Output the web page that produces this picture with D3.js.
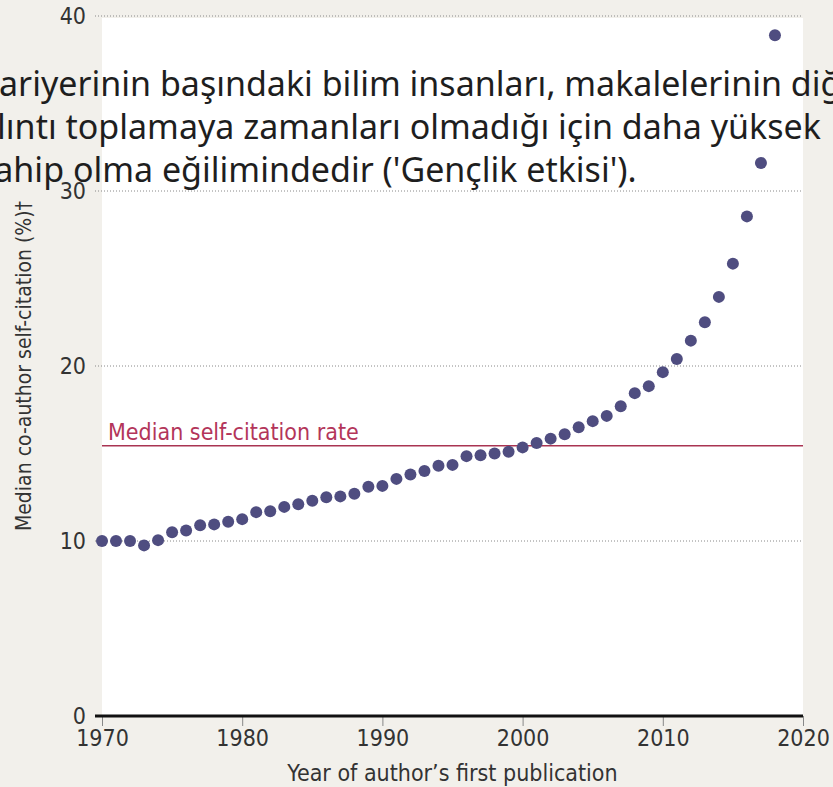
<!DOCTYPE html>
<html>
<head>
<meta charset="utf-8">
<script src="https://cdn.jsdelivr.net/npm/d3@7"></script>
<style>
  html, body { margin: 0; padding: 0; background: #f2f0eb; }
  #chart { width: 833px; height: 787px; overflow: hidden; }
</style>
</head>
<body>
<div id="chart"></div>
<script>
// data
const years = [1970, 1971, 1972, 1973, 1974, 1975, 1976, 1977, 1978, 1979,
    1980, 1981, 1982, 1983, 1984, 1985, 1986, 1987, 1988, 1989,
    1990, 1991, 1992, 1993, 1994, 1995, 1996, 1997, 1998, 1999,
    2000, 2001, 2002, 2003, 2004, 2005, 2006, 2007, 2008, 2009,
    2010, 2011, 2012, 2013, 2014, 2015, 2016, 2017, 2018];
const selfCitation = [10.0, 10.0, 10.0, 9.75, 10.05, 10.5, 10.6, 10.9, 10.95, 11.1,
    11.25, 11.65, 11.7, 11.95, 12.1, 12.3, 12.5, 12.55, 12.7, 13.1,
    13.15, 13.55, 13.8, 14.0, 14.3, 14.35, 14.85, 14.9, 15.0, 15.1,
    15.35, 15.6, 15.85, 16.1, 16.5, 16.85, 17.15, 17.7, 18.45, 18.85,
    19.65, 20.4, 21.45, 22.5, 23.95, 25.85, 28.55, 31.6, 38.9];
const medianRate = 15.45;
const xTicks = [1970, 1980, 1990, 2000, 2010, 2020];
const yTicks = [0, 10, 20, 30, 40];
const captionLines = [
    "Kariyerinin başındaki bilim insanları, makalelerinin diğer",
    "alıntı toplamaya zamanları olmadığı için daha yüksek",
    "sahip olma eğilimindedir ('Gençlik etkisi')."
];

const width = 833, height = 787;
const margin = {top: 16, right: 30, bottom: 71, left: 102};

const svg = d3.select("#chart")
    .append("svg")
    .attr("width", width)
    .attr("height", height);

svg.append("rect")
    .attr("width", width).attr("height", height)
    .attr("fill", "#f2f0eb");

const x = d3.scaleLinear()
    .domain([1970, 2020])
    .range([margin.left, width - margin.right]);
const y = d3.scaleLinear()
    .domain([0, 40])
    .range([height - margin.bottom, margin.top]);

// white plot panel
svg.append("rect")
    .attr("x", x(1970))
    .attr("y", y(40) + 2)
    .attr("width", x(2020) - x(1970))
    .attr("height", y(0) - y(40) - 2)
    .attr("fill", "#ffffff");

const tickFont = "'Liberation Sans Narrow', 'DejaVu Sans Condensed', 'Liberation Sans', sans-serif";

// dotted gridlines
svg.selectAll(".grid")
    .data(yTicks.filter(d => d > 0))
    .enter().append("line")
    .attr("class", "grid")
    .attr("x1", x(1970) - 7)
    .attr("x2", x(2020))
    .attr("y1", d => y(d))
    .attr("y2", d => y(d))
    .style("stroke", "#888")
    .style("stroke-width", 1)
    .style("stroke-dasharray", "1,2");

// y tick labels
svg.selectAll(".ylab")
    .data(yTicks)
    .enter().append("text")
    .attr("class", "ylab")
    .attr("x", x(1970) - 16)
    .attr("y", d => y(d))
    .attr("dy", "0.35em")
    .attr("text-anchor", "end")
    .style("font-family", tickFont)
    .style("font-size", "23px")
    .style("fill", "#333")
    .text(d => d);

// x axis
const xAxis = svg.append("g")
    .attr("transform", "translate(0," + y(0) + ")")
    .call(d3.axisBottom(x).tickValues(xTicks).tickFormat(d3.format("d")).tickSize(10).tickPadding(4));
xAxis.select(".domain").remove();
xAxis.selectAll(".tick line").style("stroke", "#888");
xAxis.selectAll(".tick text")
    .style("font-family", tickFont)
    .style("font-size", "23px")
    .style("fill", "#333");

svg.append("line")
    .attr("x1", x(1970) - 7)
    .attr("x2", x(2020))
    .attr("y1", y(0))
    .attr("y2", y(0))
    .style("stroke", "#111")
    .style("stroke-width", 3);

// axis titles
svg.append("text")
    .attr("x", (x(1970) + x(2020)) / 2)
    .attr("y", 781)
    .attr("text-anchor", "middle")
    .style("font-family", tickFont)
    .style("font-size", "23px")
    .style("fill", "#333")
    .text("Year of author\u2019s first publication");

svg.append("text")
    .attr("transform", "translate(31," + (y(0) + y(40)) / 2 + ") rotate(-90)")
    .attr("text-anchor", "middle")
    .style("font-family", tickFont)
    .style("font-size", "21px")
    .style("fill", "#333")
    .text("Median co-author self-citation (%)\u2020");

// median line
svg.append("line")
    .attr("x1", x(1970))
    .attr("x2", x(2020))
    .attr("y1", y(medianRate))
    .attr("y2", y(medianRate))
    .style("stroke", "#a93452")
    .style("stroke-width", 1.5);

svg.append("text")
    .attr("x", x(1970) + 6)
    .attr("y", y(medianRate) - 6)
    .style("font-family", tickFont)
    .style("font-size", "23px")
    .style("fill", "#b3355a")
    .text("Median self-citation rate");

// dots
svg.selectAll(".dot")
    .data(years.map((yr, i) => ({year: yr, value: selfCitation[i]})))
    .enter().append("circle")
    .attr("class", "dot")
    .attr("cx", d => x(d.year))
    .attr("cy", d => y(d.value))
    .attr("r", 6)
    .style("fill", "#4f4d80");

// caption overlay (runs past the edges)
svg.append("g")
    .selectAll("text")
    .data(captionLines)
    .enter().append("text")
    .attr("x", -22)
    .attr("y", (d, i) => 96 + i * 43)
    .style("font-family", "'Noto Sans', 'Open Sans', sans-serif")
    .style("font-size", "34px")
    .style("fill", "#1e1e1e")
    .text(d => d);
</script>
</body>
</html>
